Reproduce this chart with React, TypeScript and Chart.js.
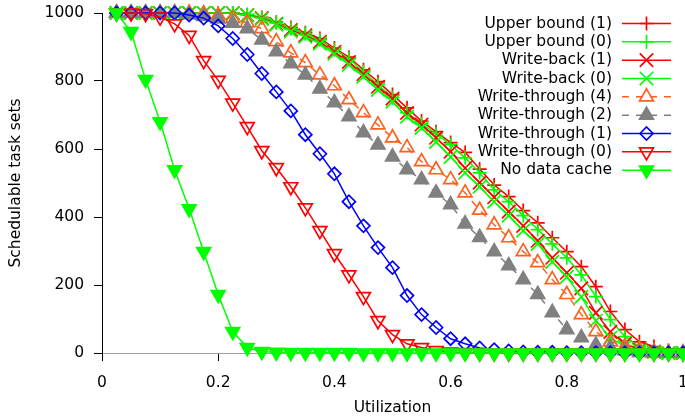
import React, { useEffect, useRef } from 'react';
import { Chart, registerables } from 'chart.js';
import { drawPoint } from 'chart.js/helpers';

Chart.register(...registerables);

// Utilization steps (x values)
const utilization = [
  0.025, 0.05, 0.075, 0.1, 0.125, 0.15, 0.175, 0.2, 0.225, 0.25,
  0.275, 0.3, 0.325, 0.35, 0.375, 0.4, 0.425, 0.45, 0.475, 0.5,
  0.525, 0.55, 0.575, 0.6, 0.625, 0.65, 0.675, 0.7, 0.725, 0.75,
  0.775, 0.8, 0.825, 0.85, 0.875, 0.9, 0.925, 0.95, 0.975, 1.0,
];

// Schedulable task sets (out of 1000) per configuration
const upperBound1 = [
  1000, 1000, 1000, 1000, 1000, 1000, 1000, 1000, 1000, 995,
  987, 973, 957, 942, 925, 897, 870, 833, 798, 760,
  721, 682, 651, 619, 590, 541, 494, 460, 419, 383,
  339, 298, 254, 195, 122, 69, 33, 19, 7, 0,
];
const upperBound0 = [
  1000, 1000, 1000, 1000, 1000, 1000, 1000, 1000, 1000, 995,
  986, 971, 954, 939, 921, 892, 866, 827, 789, 751,
  707, 674, 645, 613, 574, 530, 480, 445, 404, 363,
  321, 280, 230, 166, 98, 48, 19, 7, 2, 0,
];
const writeBack1 = [
  1000, 1000, 1000, 1000, 1000, 1000, 1000, 1000, 1000, 994,
  985, 968, 950, 934, 915, 886, 856, 820, 783, 748,
  706, 672, 633, 592, 544, 501, 458, 416, 374, 330,
  280, 236, 190, 118, 62, 27, 10, 4, 0, 0,
];
const writeBack0 = [
  1000, 1000, 1000, 1000, 1000, 1000, 1000, 1000, 1000, 993,
  983, 966, 946, 930, 910, 880, 848, 813, 774, 739,
  695, 662, 621, 577, 530, 489, 445, 404, 360, 321,
  268, 224, 165, 95, 45, 19, 7, 3, 0, 0,
];
const writeThrough4 = [
  1000, 1000, 1000, 1000, 1000, 1000, 998, 992, 984, 971,
  954, 916, 883, 854, 818, 786, 745, 707, 671, 633,
  604, 563, 539, 510, 471, 420, 377, 339, 298, 266,
  216, 172, 113, 63, 33, 19, 10, 4, 0, 0,
];
const writeThrough2 = [
  1000, 1000, 1000, 1000, 1000, 995, 990, 983, 970, 954,
  921, 886, 851, 818, 777, 736, 695, 648, 612, 577,
  539, 510, 471, 436, 380, 340, 298, 257, 216, 172,
  119, 69, 45, 24, 16, 7, 2, 0, 0, 0,
];
const writeThrough1 = [
  1000, 1000, 1000, 1000, 1000, 994, 985, 962, 925, 878,
  822, 768, 712, 642, 586, 527, 445, 374, 310, 251,
  169, 113, 75, 42, 27, 15, 10, 6, 3, 2,
  2, 1, 1, 1, 1, 0, 0, 0, 0, 0,
];
const writeThrough0 = [
  1000, 1000, 998, 988, 968, 934, 860, 802, 735, 666,
  595, 545, 489, 427, 360, 292, 230, 166, 95, 54,
  27, 16, 7, 3, 1, 0, 0, 0, 0, 0,
  0, 0, 0, 0, 0, 0, 0, 0, 0, 0,
];
const noDataCache = [
  1000, 945, 804, 680, 539, 424, 298, 172, 63, 16,
  4, 2, 1, 1, 1, 1, 1, 0, 0, 0,
  0, 0, 0, 0, 0, 0, 0, 0, 0, 0,
  0, 0, 0, 0, 0, 0, 0, 0, 0, 0,
];

const xTickStep = 0.2;
const yTickStep = 200;

const RED = '#ff0000';
const GREEN = '#00ff00';
const ORANGE = 'rgb(255,96,32)';
const GRAY = '#808080';
const BLUE = '#0000ff';
const NONE = 'rgba(0,0,0,0)';
const FONT = '"DejaVu Sans", "Liberation Sans", sans-serif';
const FONT_SIZE = 15.5;

type SeriesDef = {
  label: string;
  values: number[];
  color: string;
  style: string;
  radius: number;
  rotation?: number;
  filled?: boolean;
  dash?: number[];
};

const seriesDefs: SeriesDef[] = [
  { label: 'Upper bound (1)', values: upperBound1, color: RED, style: 'cross', radius: 7 },
  { label: 'Upper bound (0)', values: upperBound0, color: GREEN, style: 'cross', radius: 7 },
  { label: 'Write-back (1)', values: writeBack1, color: RED, style: 'crossRot', radius: 9.5 },
  { label: 'Write-back (0)', values: writeBack0, color: GREEN, style: 'crossRot', radius: 9.5 },
  { label: 'Write-through (4)', values: writeThrough4, color: ORANGE, style: 'triangle', radius: 8, dash: [7, 7] },
  { label: 'Write-through (2)', values: writeThrough2, color: GRAY, style: 'triangle', radius: 8, filled: true, dash: [7, 7] },
  { label: 'Write-through (1)', values: writeThrough1, color: BLUE, style: 'rectRot', radius: 6.5 },
  { label: 'Write-through (0)', values: writeThrough0, color: RED, style: 'triangle', radius: 8, rotation: 180 },
  { label: 'No data cache', values: noDataCache, color: GREEN, style: 'triangle', radius: 8, rotation: 180, filled: true },
];

// Key drawn at the upper right: text right-aligned, line sample after it
const sideKey = {
  id: 'sideKey',
  afterDraw(chart: any) {
    const ctx: CanvasRenderingContext2D = chart.ctx;
    const textRight = 612;
    const sampleStart = 622;
    const sampleEnd = 671;
    const firstRow = 23.5;
    const rowStep = 18.33;
    ctx.save();
    ctx.font = `${FONT_SIZE}px ${FONT}`;
    ctx.textAlign = 'right';
    ctx.textBaseline = 'middle';
    chart.data.datasets.forEach((ds: any, i: number) => {
      const y = firstRow + i * rowStep;
      ctx.fillStyle = '#000';
      ctx.fillText(ds.label, textRight, y);
      ctx.strokeStyle = ds.borderColor;
      ctx.lineWidth = ds.borderWidth;
      ctx.setLineDash(ds.borderDash || []);
      ctx.beginPath();
      ctx.moveTo(sampleStart, y);
      ctx.lineTo(sampleEnd, y);
      ctx.stroke();
      ctx.setLineDash([]);
      ctx.fillStyle = ds.pointBackgroundColor;
      ctx.strokeStyle = ds.pointBorderColor;
      ctx.lineWidth = ds.pointBorderWidth;
      drawPoint(
        ctx,
        {
          pointStyle: ds.pointStyle,
          rotation: ds.pointRotation || 0,
          radius: ds.pointRadius,
          borderWidth: ds.pointBorderWidth,
        } as any,
        (sampleStart + sampleEnd) / 2,
        y,
      );
    });
    ctx.restore();
  },
};

export default function App() {
  const canvasRef = useRef<HTMLCanvasElement>(null);

  useEffect(() => {
    const canvas = canvasRef.current;
    if (!canvas) return;

    const datasets = seriesDefs.map((s, i) => ({
      label: s.label,
      data: utilization.map((x, j) => ({ x, y: s.values[j] })),
      borderColor: s.color,
      backgroundColor: s.color,
      borderWidth: 1.5,
      borderDash: s.dash || [],
      pointStyle: s.style,
      pointRadius: s.radius,
      pointRotation: s.rotation || 0,
      pointBorderColor: s.color,
      pointBackgroundColor: s.filled ? s.color : NONE,
      pointBorderWidth: 1.7,
      pointHoverRadius: s.radius,
      tension: 0,
      fill: false,
      clip: false as any,
      order: seriesDefs.length - i,
    }));

    const chart = new Chart(canvas, {
      type: 'line',
      data: { datasets },
      options: {
        animation: false,
        responsive: false,
        devicePixelRatio: 1,
        events: [],
        layout: { autoPadding: false, padding: { top: 13, right: 2, left: 0, bottom: 0 } },
        plugins: {
          legend: { display: false },
          tooltip: { enabled: false },
        },
        scales: {
          x: {
            type: 'linear',
            min: 0,
            max: 1,
            ticks: {
              stepSize: xTickStep,
              color: '#000',
              padding: 13,
              maxRotation: 0,
              font: { family: FONT, size: FONT_SIZE },
              callback: (v: any) => String(Math.round(Number(v) * 10) / 10),
            },
            grid: {
              drawOnChartArea: false,
              drawTicks: true,
              tickLength: 8,
              tickColor: '#000',
              tickWidth: 1,
            },
            border: { display: true, color: '#a0a0a0', width: 1 },
            title: {
              display: true,
              text: 'Utilization',
              color: '#000',
              font: { family: FONT, size: FONT_SIZE },
              padding: { top: 0, bottom: 2 },
            },
            afterFit(scale: any) {
              scale.height = 66;
              scale.paddingLeft = 0;
              scale.paddingRight = 0;
            },
          },
          y: {
            type: 'linear',
            min: 0,
            max: 1000,
            ticks: {
              stepSize: yTickStep,
              color: '#000',
              padding: 10,
              font: { family: FONT, size: FONT_SIZE },
              callback: (v: any) => String(Math.round(Number(v))),
            },
            grid: {
              drawOnChartArea: false,
              drawTicks: true,
              tickLength: 8,
              tickColor: '#000',
              tickWidth: 1,
            },
            border: { display: true, color: '#000', width: 1 },
            title: {
              display: true,
              text: 'Schedulable task sets',
              color: '#000',
              font: { family: FONT, size: FONT_SIZE },
              padding: { top: 7, bottom: 0 },
            },
            afterFit(scale: any) {
              scale.width = 102;
              scale.paddingTop = 0;
              scale.paddingBottom = 0;
            },
          },
        },
      },
      plugins: [sideKey],
    });

    return () => chart.destroy();
  }, []);

  return (
    <div style={{ position: 'fixed', left: 0, top: 0, width: 685, height: 419, background: '#fff' }}>
      <canvas ref={canvasRef} width={685} height={419} style={{ display: 'block' }} />
    </div>
  );
}
